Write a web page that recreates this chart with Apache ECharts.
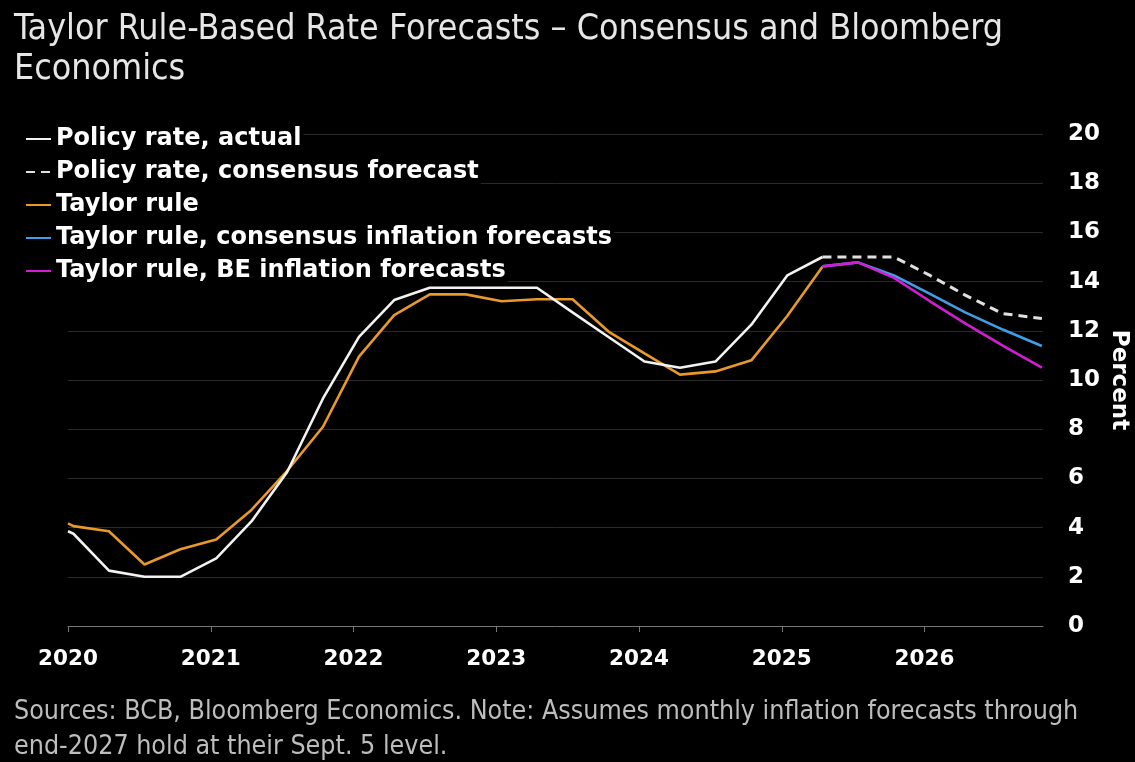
<!DOCTYPE html>
<html>
<head>
<meta charset="utf-8">
<script src="https://cdn.jsdelivr.net/npm/echarts@6/dist/echarts.min.js"></script>
<style>
html,body{margin:0;padding:0;background:#000;}
#chart{width:1135px;height:762px;}
</style>
</head>
<body>
<div id="chart"></div>
<script>
// ---- data ----
var dates = [
  '2020-01-01','2020-01-15','2020-04-15','2020-07-15','2020-10-15',
  '2021-01-15','2021-04-15','2021-07-15','2021-10-15',
  '2022-01-15','2022-04-15','2022-07-15','2022-10-15',
  '2023-01-15','2023-04-15','2023-07-15','2023-10-15',
  '2024-01-15','2024-04-15','2024-07-15','2024-10-15',
  '2025-01-15','2025-04-15','2025-07-15','2025-10-15',
  '2026-01-15','2026-04-15','2026-07-20','2026-10-28'
];
var policyActual = [3.85,3.75,2.25,2.0,2.0,2.75,4.25,6.25,9.25,11.75,13.25,13.75,13.75,13.75,13.75,12.75,11.75,10.75,10.5,10.75,12.25,14.25,15.0,null,null,null,null,null,null];
var policyConsensus = [null,null,null,null,null,null,null,null,null,null,null,null,null,null,null,null,null,null,null,null,null,null,15.0,15.0,15.0,14.25,13.45,12.7,12.5];
var taylorRule = [4.17,4.06,3.85,2.5,3.12,3.52,4.72,6.3,8.1,10.95,12.64,13.48,13.48,13.2,13.28,13.28,11.97,11.08,10.22,10.35,10.8,12.6,14.6,null,null,null,null,null,null];
var taylorConsensusInfl = [null,null,null,null,null,null,null,null,null,null,null,null,null,null,null,null,null,null,null,null,null,null,14.62,14.78,14.25,13.5,12.75,12.05,11.38];
var taylorBEInfl = [null,null,null,null,null,null,null,null,null,null,null,null,null,null,null,null,null,null,null,null,null,null,14.62,14.78,14.15,13.2,12.3,11.4,10.5];
var yearTicks = [2020,2021,2022,2023,2024,2025,2026];
var seriesNames = ['Policy rate, actual','Policy rate, consensus forecast','Taylor rule','Taylor rule, consensus inflation forecasts','Taylor rule, BE inflation forecasts'];

function toYear(s){
  var p = s.split('-').map(Number);
  var start = Date.UTC(p[0],0,1), end = Date.UTC(p[0]+1,0,1);
  return p[0] + (Date.UTC(p[0],p[1]-1,p[2]) - start)/(end-start);
}
function pairs(vals){
  return dates.map(function(d,i){ return [toYear(d), vals[i]]; });
}

var condensed = "'DejaVu Sans Condensed','Liberation Sans Narrow',sans-serif";
var boldFont = "'DejaVu Sans',Verdana,sans-serif";

var chart = echarts.init(document.getElementById('chart'), null, {renderer:'canvas'});
chart.setOption({
  backgroundColor:'#000',
  animation:false,
  title:[{
    text:'Taylor Rule-Based Rate Forecasts \u2013 Consensus and Bloomberg\nEconomics',
    left:9, top:5,
    textStyle:{color:'#e6e6e6', fontSize:35.5, fontWeight:'normal', fontFamily:condensed, lineHeight:40}
  },{
    text:'Sources: BCB, Bloomberg Economics. Note: Assumes monthly inflation forecasts through\nend-2027 hold at their Sept. 5 level.',
    left:9, top:690,
    textStyle:{color:'#bdbdbd', fontSize:26.6, fontWeight:'normal', fontFamily:condensed, lineHeight:35}
  }],
  legend:{
    data:seriesNames,
    orient:'vertical',
    left:25, top:125, padding:0,
    itemWidth:25, itemHeight:14, itemGap:5,
    itemStyle:{opacity:0},
    textStyle:{color:'#ffffff', fontSize:24, fontWeight:'bold', fontFamily:boldFont, lineHeight:26, backgroundColor:'#000', padding:[1,2,1,0]}
  },
  grid:{left:68, right:92, top:134, bottom:136, outerBoundsMode:'none', containLabel:false},
  xAxis:{
    type:'value', min:2020, max:2026.83, interval:1,
    axisLine:{lineStyle:{color:'#777', width:1}},
    axisTick:{show:true, length:6, lineStyle:{color:'#777'}, customValues:yearTicks},
    axisLabel:{color:'#ffffff', fontSize:21.5, fontWeight:'bold', fontFamily:boldFont, margin:22, customValues:yearTicks,
      formatter:function(v){ return String(Math.round(v)); }},
    splitLine:{show:false}
  },
  yAxis:{
    type:'value', position:'right', min:0, max:20, interval:2,
    axisLine:{show:false}, axisTick:{show:false},
    axisLabel:{color:'#ffffff', fontSize:23, fontWeight:'bold', fontFamily:boldFont, margin:25, align:'left', padding:[6,0,0,0]},
    splitLine:{lineStyle:{color:'#2a2a2a', width:1}},
    name:'Percent', nameLocation:'middle', nameRotate:-90, nameGap:64, nameMoveOverlap:false,
    nameTextStyle:{color:'#ffffff', fontSize:23, fontWeight:'bold', fontFamily:boldFont}
  },
  series:[
    {name:seriesNames[2], type:'line', data:pairs(taylorRule), symbol:'none', z:2,
      lineStyle:{color:'#e8992a', width:2.6}, itemStyle:{color:'#e8992a'}},
    {name:seriesNames[0], type:'line', data:pairs(policyActual), symbol:'none', z:3,
      lineStyle:{color:'#f2f2f2', width:2.6}, itemStyle:{color:'#f2f2f2'}},
    {name:seriesNames[1], type:'line', data:pairs(policyConsensus), symbol:'none', z:3,
      lineStyle:{color:'#e0e0e0', width:3, type:[9,6]}, itemStyle:{color:'#e0e0e0'}},
    {name:seriesNames[3], type:'line', data:pairs(taylorConsensusInfl), symbol:'none', z:4,
      lineStyle:{color:'#3f9fe6', width:2.6}, itemStyle:{color:'#3f9fe6'}},
    {name:seriesNames[4], type:'line', data:pairs(taylorBEInfl), symbol:'none', z:5,
      lineStyle:{color:'#d21ed2', width:2.6}, itemStyle:{color:'#d21ed2'}}
  ]
});
</script>
</body>
</html>
